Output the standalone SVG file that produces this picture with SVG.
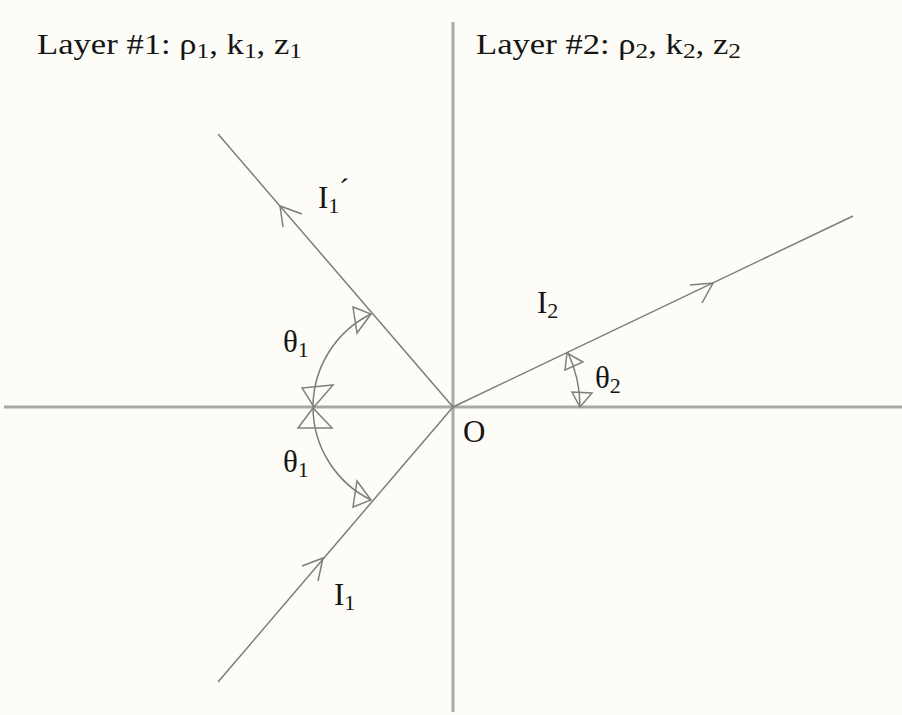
<svg xmlns="http://www.w3.org/2000/svg" width="902" height="715" viewBox="0 0 902 715">
<style>
.axis{stroke:#a8a8a8;stroke-width:3;fill:none}
.ray{stroke:#7c7c7c;stroke-width:1.5;fill:none}
.tri{stroke:#808080;stroke-width:1.5;fill:none;stroke-linejoin:miter}
.arc{stroke:#7c7c7c;stroke-width:1.5;fill:none}
.lbl{font-family:"Liberation Serif","Times New Roman",serif;font-size:31px;fill:#151515}
.top{font-size:30px}
.sub{font-size:22px}
</style>
<rect width="902" height="715" fill="#fdfcf6"/>
<g id="axes">
<line class="axis" x1="453" y1="22" x2="453" y2="712"/>
<line class="axis" x1="4" y1="407" x2="902" y2="407"/>
</g>
<g id="layer1-label"><text class="lbl top" x="37" y="54" textLength="265" lengthAdjust="spacingAndGlyphs">Layer #1: ρ<tspan class="sub" dy="4">1</tspan><tspan dy="-4">, k</tspan><tspan class="sub" dy="4">1</tspan><tspan dy="-4">, z</tspan><tspan class="sub" dy="4">1</tspan></text></g>
<g id="layer2-label"><text class="lbl top" x="476" y="54" textLength="265" lengthAdjust="spacingAndGlyphs">Layer #2: ρ<tspan class="sub" dy="4">2</tspan><tspan dy="-4">, k</tspan><tspan class="sub" dy="4">2</tspan><tspan dy="-4">, z</tspan><tspan class="sub" dy="4">2</tspan></text></g>
<g id="connectors">
<g id="ray-I1-reflected">
<line class="ray" x1="453" y1="407" x2="218" y2="134"/>
<polyline class="ray" points="302,214 280,206 283,227"/>
</g>
<g id="ray-I1">
<line class="ray" x1="218" y1="682" x2="453" y2="407"/>
<polyline class="ray" points="302,566 323,558 318,581"/>
</g>
<g id="ray-I2">
<line class="ray" x1="453" y1="407" x2="853" y2="216"/>
<polyline class="ray" points="690,285 713,283 702,303"/>
</g>
</g>
<g id="angle-theta1-upper">
<path class="arc" d="M371,314 A104,104 0 0 0 313,407"/>
<polygon class="tri" points="353,307 357,333 371,314"/>
<polygon class="tri" points="302,388 333,385 314,407"/>
<text class="lbl" x="283" y="352">θ<tspan class="sub" dy="5">1</tspan></text>
</g>
<g id="angle-theta1-lower">
<path class="arc" d="M313,407 A104,104 0 0 0 371,500"/>
<polygon class="tri" points="313,408 298,428 332,428"/>
<polygon class="tri" points="353,507 357,481 371,500"/>
<text class="lbl" x="283" y="472">θ<tspan class="sub" dy="5">1</tspan></text>
</g>
<g id="angle-theta2">
<path class="arc" d="M567.6,352 A128,128 0 0 1 580,407"/>
<polygon class="tri" points="567,353 565,370 583,362"/>
<polygon class="tri" points="580,407 572,392 592,393"/>
<text class="lbl" x="595" y="388">θ<tspan class="sub" dy="5">2</tspan></text>
</g>
<g id="label-I1-reflected"><text class="lbl" x="318" y="208">I<tspan class="sub" dy="5">1</tspan></text><text class="lbl" x="339" y="200">´</text></g>
<g id="label-I1"><text class="lbl" x="334" y="605">I<tspan class="sub" dy="5">1</tspan></text></g>
<g id="label-I2"><text class="lbl" x="537" y="313">I<tspan class="sub" dy="5">2</tspan></text></g>
<g id="label-O"><text class="lbl" x="463" y="442">O</text></g>
</svg>
